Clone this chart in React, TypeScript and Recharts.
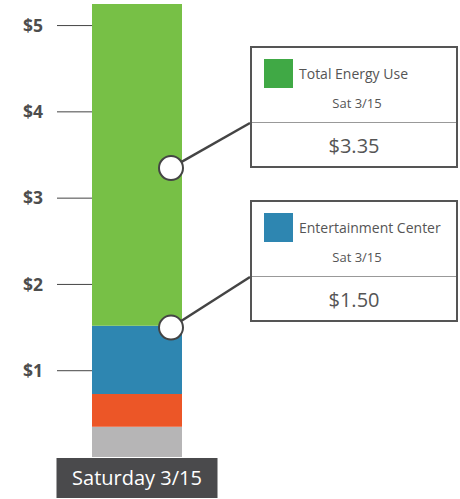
import React from "react";
import { Bar, BarChart, ReferenceDot, XAxis, YAxis } from "recharts";

// values (dollars)
const days = ["Saturday 3/15"];
const otherCost = [0.35];
const heatingCost = [0.38];
const entertainmentCost = [0.79];
const restCost = [3.73];
const yTicks = [1, 2, 3, 4, 5];

const calloutLabels = ["Total Energy Use", "Entertainment Center"];
const calloutDates = ["Sat 3/15", "Sat 3/15"];
const calloutValues = [3.35, 1.5];

// layout / styling for the callouts
const calloutColors = ["#40a945", "#2e86b1"];
const calloutTops = [46, 200];
const BOX_LEFT = 250;
const BOX_W = 208;
const BOX_H = 122;
const DIVIDER = 77;

const FONT = "'Open Sans', 'Noto Sans', sans-serif";

const data = days.map((day, i) => ({
  day,
  other: otherCost[i],
  heating: heatingCost[i],
  entertainment: entertainmentCost[i],
  rest: restCost[i],
}));

const XTick = (props: any) => {
  const { x, y, payload } = props;
  return (
    <g>
      <rect x={x - 80.5} y={y + 1} width={161} height={40} fill="#4a4a4c" />
      <text
        x={x}
        y={y + 28}
        textAnchor="middle"
        fill="#ffffff"
        fontSize={20}
        fontFamily={FONT}
      >
        {payload.value}
      </text>
    </g>
  );
};

const makeMarker = (boxTop: number) => (props: any) => {
  const { cx, cy } = props;
  const px = cx + 34;
  return (
    <g>
      <line
        x1={px}
        y1={cy}
        x2={BOX_LEFT}
        y2={boxTop + DIVIDER}
        stroke="#444"
        strokeWidth={2.5}
      />
      <circle cx={px} cy={cy} r={12} fill="#ffffff" stroke="#444" strokeWidth={2} />
    </g>
  );
};

const Callout = ({ i }: { i: number }) => (
  <div
    style={{
      position: "absolute",
      left: BOX_LEFT,
      top: calloutTops[i],
      width: BOX_W,
      height: BOX_H,
      boxSizing: "border-box",
      border: "2.5px solid #555",
      background: "#fff",
      fontFamily: FONT,
      color: "#555",
    }}
  >
    <div
      style={{
        position: "absolute",
        left: 12,
        top: 11,
        width: 29,
        height: 29,
        background: calloutColors[i],
      }}
    />
    <div
      style={{
        position: "absolute",
        left: 47,
        top: 16,
        fontSize: 14,
        lineHeight: "20px",
        whiteSpace: "nowrap",
      }}
    >
      {calloutLabels[i]}
    </div>
    <div
      style={{
        position: "absolute",
        left: 6,
        right: 0,
        top: 45,
        textAlign: "center",
        fontSize: 13,
        lineHeight: "20px",
      }}
    >
      {calloutDates[i]}
    </div>
    <div
      style={{
        position: "absolute",
        left: 0,
        right: 0,
        top: DIVIDER - 3,
        borderTop: "1.5px solid #999",
      }}
    />
    <div
      style={{
        position: "absolute",
        left: 0,
        right: 0,
        top: DIVIDER + 6,
        textAlign: "center",
        fontSize: 20,
        lineHeight: "30px",
      }}
    >
      ${calloutValues[i].toFixed(2)}
    </div>
  </div>
);

export default function App() {
  return (
    <div
      style={{
        position: "absolute",
        left: 0,
        top: 0,
        width: 460,
        height: 499,
        background: "#fff",
      }}
    >
      <BarChart
        width={460}
        height={499}
        data={data}
        margin={{ top: 4, right: 278, left: 0, bottom: 1 }}
        barCategoryGap={0}
      >
        <XAxis
          dataKey="day"
          axisLine={false}
          tickLine={false}
          tickSize={0}
          tickMargin={0}
          height={41}
          tick={<XTick />}
        />
        <YAxis
          domain={[0, 5.25]}
          ticks={yTicks}
          width={92}
          axisLine={false}
          tickLine={{ stroke: "#444" }}
          tickSize={35}
          tickMargin={14}
          tick={{ fontSize: 17.5, fontWeight: 700, fill: "#4d4d4d", fontFamily: FONT }}
          tickFormatter={(v) => `$${v}`}
        />
        <Bar dataKey="other" stackId="a" fill="#b6b5b6" isAnimationActive={false} />
        <Bar dataKey="heating" stackId="a" fill="#ec5627" isAnimationActive={false} />
        <Bar dataKey="entertainment" stackId="a" fill="#2e86b1" isAnimationActive={false} />
        <Bar dataKey="rest" stackId="a" fill="#77c046" isAnimationActive={false} />
        {calloutValues.map((v, i) => (
          <ReferenceDot
            key={i}
            x={days[0]}
            y={v}
            ifOverflow="visible"
            shape={makeMarker(calloutTops[i])}
          />
        ))}
      </BarChart>
      {calloutValues.map((_, i) => (
        <Callout key={i} i={i} />
      ))}
    </div>
  );
}
